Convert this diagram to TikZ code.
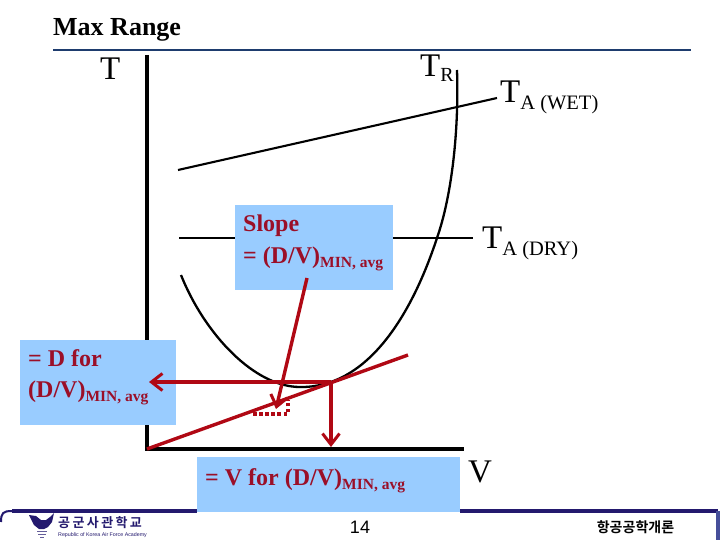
\documentclass[tikz,border=0pt]{standalone}
\usepackage{fontspec}
\setmainfont{Liberation Serif}
\setsansfont{Liberation Sans}
\newfontfamily\krfont{Noto Sans CJK KR}[BoldFont={* Bold}]
\usetikzlibrary{arrows.meta}
\definecolor{navyline}{RGB}{30,60,110}
\definecolor{footnavy}{RGB}{35,25,110}
\definecolor{boxblue}{RGB}{153,204,255}
\definecolor{redline}{RGB}{176,8,20}
\definecolor{redtext}{RGB}{155,15,40}
\newcommand{\redsub}{\raisebox{-4pt}{\fontsize{15.5}{15.5}\selectfont MIN, avg}}
\tikzset{
  redarrow/.style={draw=redline,line width=3.4pt,-{Straight Barb[length=11pt,width=17pt,line width=3pt]}},
  redlab/.style={anchor=base west,inner sep=0pt,text=redtext,font=\fontsize{24}{26}\selectfont\bfseries},
  blacklab/.style={anchor=base west,inner sep=0pt,font=\fontsize{33}{35}\selectfont},
  thinline/.style={draw=black,line width=2.1pt},
}
\begin{document}
\begin{tikzpicture}[x=1pt,y=-1pt]
\useasboundingbox (0,0) rectangle (720,540);
\fill[white] (0,0) rectangle (720,540);
% title
\node[anchor=base west,inner sep=0pt,font=\fontsize{26}{28}\selectfont\bfseries] (title) at (53,36) {Max Range};
\coordinate (titleL) at (53,50); \coordinate (titleR) at (691,50);
\draw[navyline,line width=2.4pt] (titleL) -- (titleR);
% TA lines
\coordinate (wetL) at (178,170); \coordinate (wetR) at (497,98);
\draw[thinline] (wetL) -- (wetR);
\coordinate (dryL) at (179,238); \coordinate (dryR) at (473,238);
\draw[thinline] (dryL) -- (dryR);
% drag curve
\coordinate (cL) at (181,275); \coordinate (cB) at (300,387); \coordinate (cM) at (437,238); \coordinate (cR) at (457,70);
\draw[black,line width=2.3pt] (cL) .. controls (205,335) and (255,387) .. (cB)
  .. controls (365,388) and (410,320) .. (cM)
  .. controls (452,195) and (459,130) .. (cR);
% axes
\coordinate (axT) at (147,55); \coordinate (axO) at (147,449); \coordinate (axR) at (464,449);
\draw[black,line width=4.2pt] (axT) -- (axO) -- (axR);
% boxes
\fill[boxblue] (235,205) rectangle (393,290);
\fill[boxblue] (20,340) rectangle (176,425);
\fill[boxblue] (197,457) rectangle (460,512);
% footer
\coordinate (fL) at (12,511); \coordinate (fA) at (197,511); \coordinate (fB) at (460,511); \coordinate (fC) at (718,511); \coordinate (fD) at (718,540);
\draw[footnavy,line width=4pt] (fL) -- (fA);
\draw[footnavy,line width=4pt] (fB) -- (fC);
\draw[footnavy!70!boxblue,line width=4pt] (fC) -- (fD);
\draw[footnavy,line width=2pt] (fL) .. controls (3,511) and (1,513) .. (1,522);
% logo
\fill[footnavy] (29,515) -- (36,516) -- (41,520) -- (46,520) -- (50,517) -- (54,513) -- (52,522) -- (48,527) -- (44,529) -- (39,529) -- (34,525) -- cycle;
\draw[footnavy!70,line width=.8pt] (37,531) -- (47,531) (38,534) -- (46,534) (40,537) -- (44,537);
\node[anchor=west,inner sep=0pt,text=footnavy,font=\krfont\fontsize{13}{14}\selectfont\bfseries] (logotext) at (58,523) {공\hspace{2.4pt}군\hspace{2.4pt}사\hspace{2.4pt}관\hspace{2.4pt}학\hspace{2.4pt}교};
\node[anchor=west,inner sep=0pt,text=footnavy,font=\sffamily\fontsize{5.3}{6}\selectfont] (logosub) at (58,535) {Republic of Korea Air Force Academy};
\node[inner sep=0pt,font=\sffamily\fontsize{18}{20}\selectfont] (pg) at (360,527) {14};
\node[inner sep=0pt,font=\krfont\fontsize{14}{15}\selectfont\bfseries] (course) at (635.5,527) {항공공학개론};
% red
\coordinate (tA) at (147,449); \coordinate (tB) at (408,355);
\draw[redline,line width=3.4pt] (tA) -- (tB);
\coordinate (tp) at (331,382); \coordinate (hEnd) at (149,382); \coordinate (vEnd) at (331,447);
\coordinate (sS) at (307,278); \coordinate (sE) at (276,409);
\draw[redarrow] (tp) -- (hEnd);
\draw[redarrow] (tp) -- (vEnd);
\draw[redarrow] (sS) -- (sE);
\coordinate (d1) at (253,414); \coordinate (d2) at (288,414); \coordinate (d3) at (288,400);
\draw[redline,line width=4pt,dash pattern=on 3.5pt off 2.6pt] (d1) -- (d2) -- (d3);
% labels
\node[redlab] (slope1) at (243,232) {Slope};
\node[redlab] (slope2) at (243,263) {= (D/V)\redsub};
\node[redlab] (d1l) at (28,366) {= D for};
\node[redlab] (d2l) at (28,397) {(D/V)\redsub};
\node[redlab] (vl) at (205,485) {= V for (D/V)\redsub};
\node[blacklab] (T) at (100,80) {T};
\node[blacklab] (TR) at (420,77) {T\raisebox{-5pt}{\fontsize{20}{20}\selectfont R}};
\node[blacklab] (TW) at (500,103) {T\raisebox{-7pt}{\fontsize{20.5}{20.5}\selectfont A (WET)}};
\node[blacklab] (TD) at (482,248) {T\raisebox{-7pt}{\fontsize{20.5}{20.5}\selectfont A (DRY)}};
\node[blacklab] (V) at (468,482) {V};
\end{tikzpicture}
\end{document}
